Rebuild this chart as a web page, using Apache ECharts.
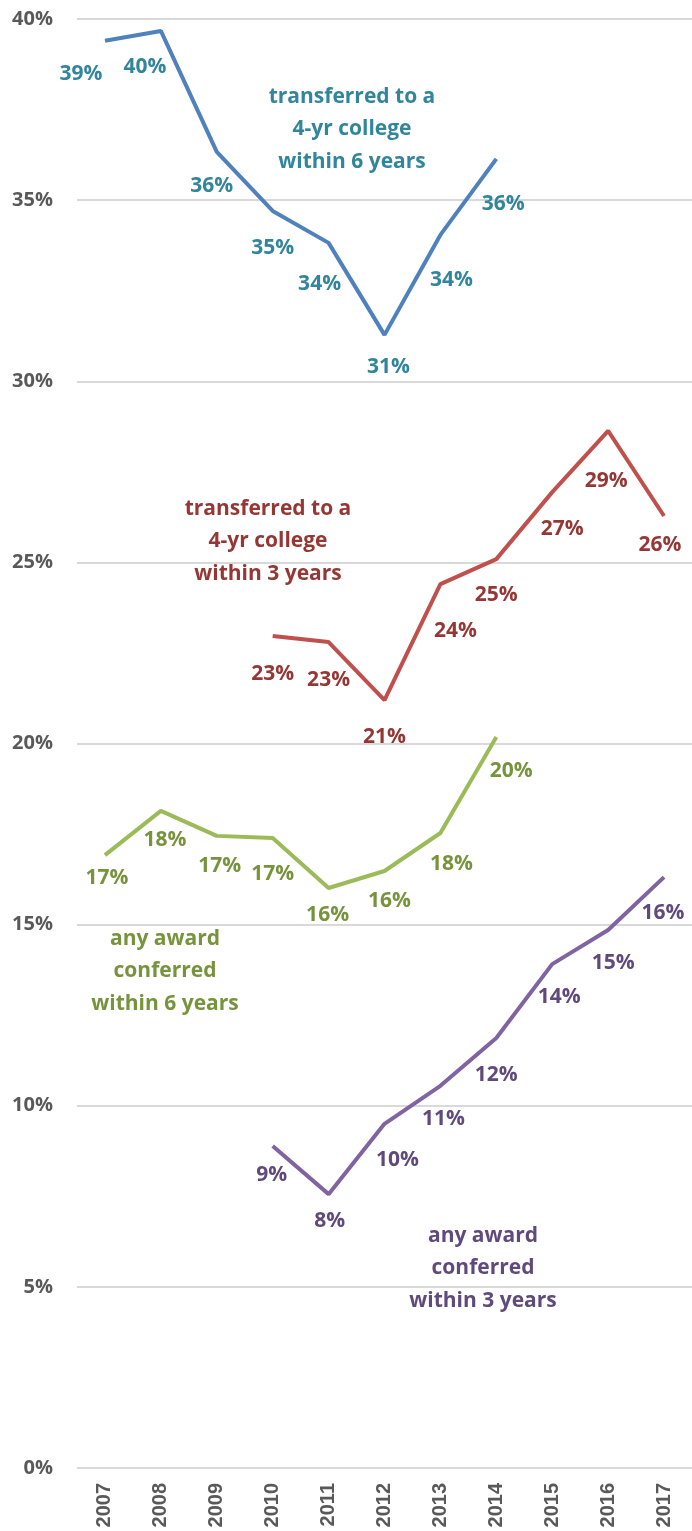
<!DOCTYPE html>
<html><head><meta charset="utf-8">
<script src="https://cdn.jsdelivr.net/npm/echarts@6/dist/echarts.min.js"></script>
<style>html,body{margin:0;padding:0;background:#fff}#c{width:692px;height:1531px}</style>
</head><body><div id="c"></div>
<script>
const years = ['2007','2008','2009','2010','2011','2012','2013','2014','2015','2016','2017'];
const yTicks = [0,5,10,15,20,25,30,35,40];
const transfer6 = [39.4, 39.67, 36.33, 34.7, 33.82, 31.28, 34.04, 36.14, null, null, null];
const transfer3 = [null, null, null, 22.97, 22.8, 21.2, 24.4, 25.09, 26.94, 28.63, 26.28];
const award6 = [16.92, 18.14, 17.45, 17.39, 16.01, 16.48, 17.53, 20.18, null, null, null];
const award3 = [null, null, null, 8.89, 7.56, 9.5, 10.55, 11.87, 13.91, 14.85, 16.31];

// label offsets (styling) per point
const off6 = [[-24,33],[-16,36],[-5,34],[0,37],[-9,41],[4,32],[11,45],[7,45],null,null,null];
const off3 = [null,null,null,[0,38],[0,38],[0,37],[15,47],[0,36],[10,37],[-2,50],[-4,29]];
const offA6 = [[2,23],[4,29],[3,30],[0,36],[-1,27],[5,30],[11,31],[15,34],null,null,null];
const offA3 = [null,null,null,[-1,29],[1,27],[13,36],[3,33],[0,37],[7,33],[5,33],[-1,36]];

const FONT = '"Open Sans", sans-serif';
function mk(vals, offs, lineColor, labelColor) {
  return {
    type: 'line', symbol: 'circle', symbolSize: 0.1, showSymbol: true, connectNulls: false,
    lineStyle: { color: lineColor, width: 4 },
    itemStyle: { color: lineColor },
    label: { show: true, position: 'inside',
      formatter: p => Math.round(p.value) + '%',
      color: labelColor, fontFamily: FONT, fontWeight: 'bold', fontSize: 21 },
    data: vals.map((v, i) => v == null ? '-' : { value: v, label: { offset: offs[i] } })
  };
}
function note(lines, x, y, color) {
  return lines.map((t, k) => ({
    type: 'text', x: x, y: y + k * 32.5,
    style: { text: t, x: 0, y: 0, textAlign: 'center', textVerticalAlign: 'middle',
      fill: color, font: 'bold 21px ' + FONT }
  }));
}
const chart = echarts.init(document.getElementById('c'));
chart.setOption({
  animation: false,
  grid: { left: 77, right: 0, top: 19, bottom: 63 },
  xAxis: { type: 'category', data: years, boundaryGap: true,
    axisLine: { show: false }, axisTick: { show: false },
    axisLabel: { rotate: 90, margin: 15, color: '#595959', fontFamily: '"Liberation Sans", Arial, sans-serif', fontWeight: 'bold', fontSize: 20 } },
  yAxis: { type: 'value', min: 0, max: 40, interval: 5,
    axisLine: { show: false }, axisTick: { show: false },
    splitLine: { lineStyle: { color: '#d9d9d9', width: 2 } },
    axisLabel: { margin: 24, color: '#595959', fontFamily: FONT, fontWeight: 'bold', fontSize: 20,
      formatter: v => yTicks.indexOf(v) >= 0 ? v + '%' : '' } },
  series: [
    mk(transfer6, off6, '#4F81BD', '#31859C'),
    mk(transfer3, off3, '#C0504D', '#953735'),
    mk(award6, offA6, '#9BBB59', '#77933C'),
    mk(award3, offA3, '#8064A2', '#604A7B')
  ],
  graphic: [].concat(
    note(['transferred to a','4-yr college','within 6 years'], 352, 97, '#31859C'),
    note(['transferred to a','4-yr college','within 3 years'], 268, 509, '#953735'),
    note(['any award','conferred','within 6 years'], 165, 939, '#77933C'),
    note(['any award','conferred','within 3 years'], 483, 1236, '#604A7B')
  )
});
</script></body></html>
